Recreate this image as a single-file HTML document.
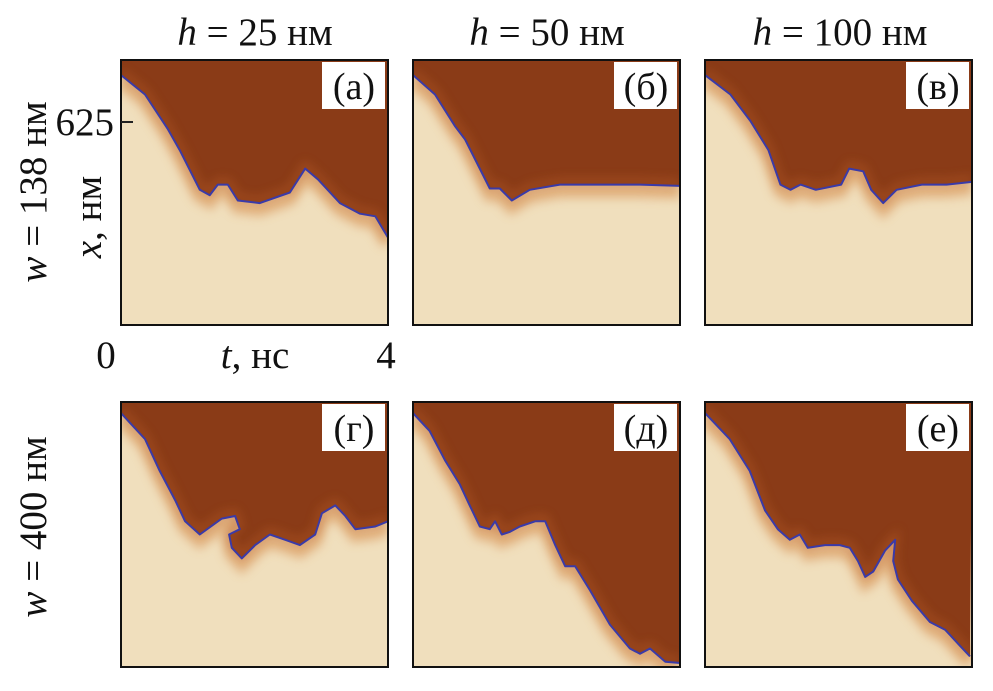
<!DOCTYPE html>
<html><head><meta charset="utf-8">
<style>
html,body{margin:0;padding:0;background:#fff;}
svg text{font-family:"Liberation Serif",serif;fill:#111;}
</style></head>
<body>
<svg id="chart" width="993" height="686" viewBox="0 0 993 686" xmlns="http://www.w3.org/2000/svg">
<defs>
<filter id="blur" x="-20%" y="-20%" width="140%" height="140%"><feGaussianBlur stdDeviation="5"/></filter>
</defs>
<g id="panels"></g>
<text x="255" y="45" font-size="39" text-anchor="middle"><tspan font-style="italic">h</tspan> = 25 нм</text>
<text x="547" y="45" font-size="39" text-anchor="middle"><tspan font-style="italic">h</tspan> = 50 нм</text>
<text x="840" y="45" font-size="39" text-anchor="middle"><tspan font-style="italic">h</tspan> = 100 нм</text>
<text transform="translate(46,192) rotate(-90)" font-size="39" text-anchor="middle"><tspan font-style="italic">w</tspan> = 138 нм</text>
<text transform="translate(46,527) rotate(-90)" font-size="39" text-anchor="middle"><tspan font-style="italic">w</tspan> = 400 нм</text>
<text transform="translate(101,217) rotate(-90)" font-size="39" text-anchor="middle"><tspan font-style="italic">x</tspan>, нм</text>
<text x="114" y="135" font-size="39" text-anchor="end">625</text>
<line x1="121" y1="122" x2="133" y2="122" stroke="#222" stroke-width="2"/>
<text x="106" y="368" font-size="39" text-anchor="middle">0</text>
<text x="255" y="368" font-size="39" text-anchor="middle"><tspan font-style="italic">t</tspan>, нс</text>
<text x="386" y="368" font-size="39" text-anchor="middle">4</text>
</svg>
<script>
const panelLabels = ["(а)","(б)","(в)","(г)","(д)","(е)"];
const tA = [0,0.36,0.7,0.88,1.18,1.33,1.45,1.6,1.75,2.08,2.53,2.76,2.95,3.28,3.58,3.81,4.0];
const xA = [.057,.13,.26,.34,.49,.51,.47,.47,.53,.54,.50,.41,.45,.54,.58,.59,.67];
const tB = [0,.33,.63,.78,1.15,1.3,1.48,1.75,2.2,2.8,3.4,4.0];
const xB = [.057,.13,.25,.30,.485,.485,.53,.49,.47,.47,.47,.475];
const tC = [0,.38,.68,.95,1.13,1.28,1.43,1.66,2.04,2.16,2.37,2.49,2.67,2.87,3.25,3.62,4.0];
const xC = [.057,.13,.23,.34,.47,.49,.47,.49,.47,.41,.42,.49,.54,.49,.47,.47,.46];
const tD = [0,.36,.58,.81,.96,1.18,1.51,1.71,1.78,1.62,1.66,1.81,2.01,2.23,2.46,2.68,2.91,3.01,3.21,3.36,3.51,3.81,4.0];
const xD = [.042,.14,.26,.37,.45,.50,.44,.43,.48,.50,.55,.59,.54,.50,.52,.54,.50,.42,.39,.43,.48,.47,.45];
const tE = [0,.25,.48,.70,.85,1.0,1.15,1.23,1.33,1.45,1.60,1.83,1.98,2.13,2.28,2.43,2.65,2.95,3.25,3.40,3.55,3.78,4.0];
const xE = [.042,.11,.22,.31,.39,.47,.48,.45,.50,.49,.47,.45,.45,.54,.62,.62,.71,.84,.93,.95,.93,.98,.985];
const tF = [0,.37,.67,.90,1.09,1.27,1.42,1.54,1.80,2.02,2.17,2.29,2.40,2.52,2.70,2.85,2.82,2.89,3.10,3.37,3.60,3.82,3.97];
const xF = [.042,.14,.26,.41,.48,.52,.50,.55,.54,.54,.55,.60,.66,.64,.56,.52,.60,.67,.75,.83,.86,.92,.96];

const seriesT = [tA,tB,tC,tD,tE,tF];
const seriesX = [xA,xB,xC,xD,xE,xF];
const NS = "http://www.w3.org/2000/svg";
const g = document.getElementById('panels');
const lefts = [121,413,705];
const tops = [60,402];
const W = 267, H = 265;

function mk(tag, attrs){const e=document.createElementNS(NS,tag);for(const k in attrs)e.setAttribute(k,attrs[k]);return e;}

for(let i=0;i<6;i++){
  const L = lefts[i%3], T = tops[Math.floor(i/3)];
  const sx = t => L + t/4*W;
  const sy = f => T + f*H;
  const pg = mk('g',{});
  
  
  const clipId='clip'+i;
  const cp = mk('clipPath',{id:clipId});
  cp.appendChild(mk('rect',{x:L,y:T,width:W,height:H}));
  pg.appendChild(cp);
  const inner = mk('g',{'clip-path':'url(#'+clipId+')'});
  const bg = mk('rect',{x:L,y:T,width:W,height:H,fill:'#f0dfbd'});
  
  
  inner.appendChild(bg);
  const pts = seriesT[i].map((t,j)=>sx(t).toFixed(1)+','+sy(seriesX[i][j]).toFixed(1));
  const lineStr = pts.join(' ');
  const glow = mk('polyline',{points:lineStr,fill:'none',stroke:'#d58a4a',"stroke-width":14,opacity:0.55,filter:'url(#blur)',transform:'translate(0,6)'});
  
  
  inner.appendChild(glow);
  const poly = mk('polygon',{points:lineStr+' '+(L+W)+','+(T-2)+' '+L+','+(T-2),fill:'#8a3b17'});
  
  
  inner.appendChild(poly);
  const edge = mk('polyline',{points:lineStr,fill:'none',stroke:'#b45a26',"stroke-width":6,opacity:0.6,filter:'url(#blur)',transform:'translate(0,-3)'});
  
  
  inner.appendChild(edge);
  const line = mk('polyline',{points:lineStr,fill:'none',stroke:'#3a3aa8',"stroke-width":2,"stroke-linejoin":'round'});
  
  
  inner.appendChild(line);
  pg.appendChild(inner);
  const lb = mk('rect',{x:L+W-66,y:T+2,width:63,height:47,fill:'#fff'});
  
  
  pg.appendChild(lb);
  const tx = mk('text',{x:L+W-34,y:T+39,"font-size":38,"text-anchor":'middle'});
  tx.textContent = panelLabels[i];
  
  
  pg.appendChild(tx);
  const fr = mk('rect',{x:L,y:T,width:W,height:H,fill:'none',stroke:'#111',"stroke-width":2});
  
  
  pg.appendChild(fr);
  g.appendChild(pg);
}
</script>
</body></html>
